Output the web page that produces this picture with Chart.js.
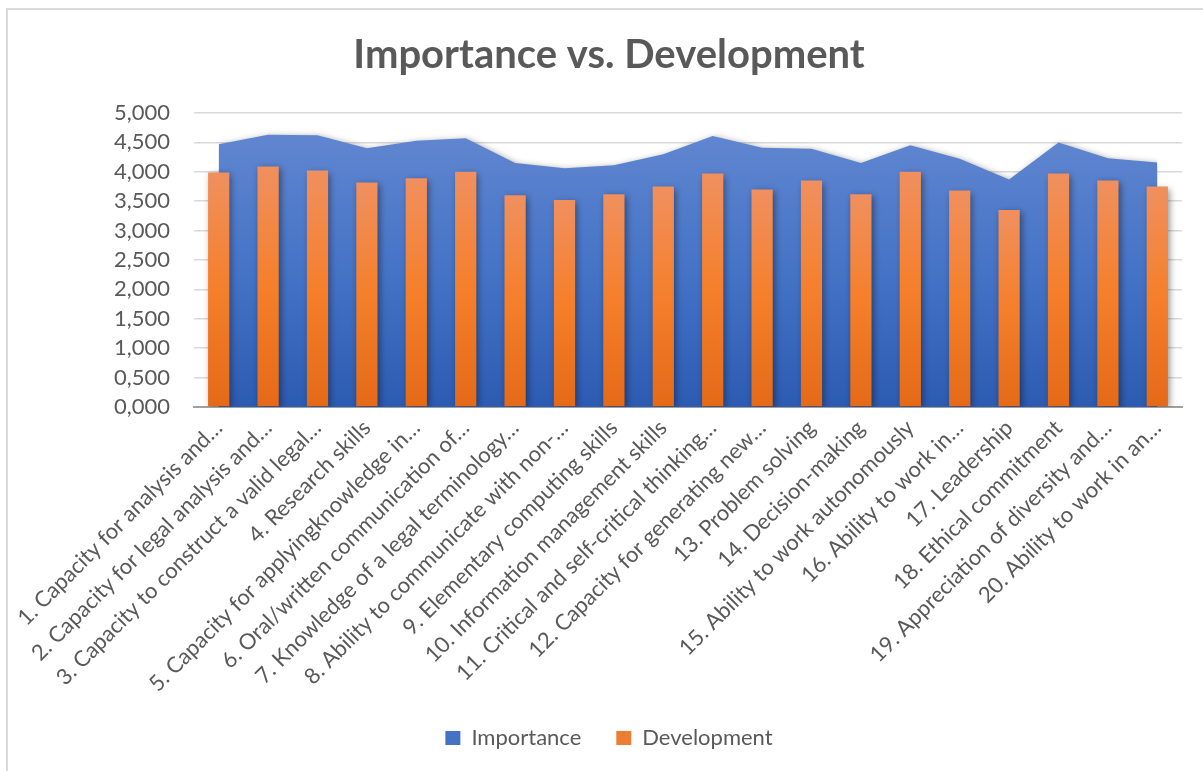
<!DOCTYPE html>
<html>
<head>
<meta charset="utf-8">
<title>Importance vs. Development</title>
<script src="https://cdn.jsdelivr.net/npm/chart.js@4/dist/chart.umd.min.js"></script>
<style>
  html, body { margin: 0; padding: 0; background: #ffffff; overflow: hidden; }
  #chart { display: block; }
</style>
</head>
<body>
<canvas id="chart" width="1203" height="771" style="width:1203px;height:771px"></canvas>
<script>
// Competence labels (as shortened on the axis)
const categories = [
  '1. Capacity for analysis and…',
  '2. Capacity for legal analysis and…',
  '3. Capacity to construct a valid legal…',
  '4. Research skills',
  '5. Capacity for applyingknowledge in…',
  '6. Oral/written communication of…',
  '7. Knowledge of a legal terminology…',
  '8. Ability to communicate with non-…',
  '9. Elementary computing skills',
  '10. Information management skills',
  '11. Critical and self-critical thinking…',
  '12. Capacity for generating new…',
  '13. Problem solving',
  '14. Decision-making',
  '15. Ability to work autonomously',
  '16. Ability to work in…',
  '17. Leadership',
  '18. Ethical commitment',
  '19. Appreciation of diversity and…',
  '20. Ability to work in an…'
];

// Mean scores (1–5 scale)
const importance = [4.47, 4.63, 4.62, 4.40, 4.53, 4.57, 4.15, 4.06, 4.11, 4.30,
                    4.61, 4.41, 4.39, 4.15, 4.45, 4.22, 3.87, 4.50, 4.23, 4.16];
const development = [3.99, 4.09, 4.02, 3.82, 3.89, 4.00, 3.60, 3.52, 3.62, 3.75,
                     3.97, 3.70, 3.85, 3.62, 4.00, 3.68, 3.35, 3.97, 3.85, 3.75];

// Value axis labels (decimal comma, three decimals)
const yTickLabels = ['0,000', '0,500', '1,000', '1,500', '2,000', '2,500',
                     '3,000', '3,500', '4,000', '4,500', '5,000'];

const FONT = 'Lato, Calibri, Carlito, "Open Sans", sans-serif';
const TEXT = '#595959';

const blueStops = [[0, '#6086d0'], [0.5, '#4573c6'], [1, '#2c5bb2']];
const orangeStops = [[0, '#f0905f'], [0.5, '#f57f2a'], [1, '#e46a18']];
const legendColors = { Importance: '#4472c4', Development: '#ed7d31' };

function gradient(ctx, y0, y1, stops) {
  const g = ctx.createLinearGradient(0, y0, 0, y1);
  stops.forEach(([o, c]) => g.addColorStop(o, c));
  return g;
}

// Area fill shaded from the highest point down to the baseline
function areaFill(context) {
  const chart = context.chart;
  const area = chart.chartArea;
  if (!area) return '#4472c4';
  const top = chart.scales.y.getPixelForValue(Math.max(...importance));
  return gradient(chart.ctx, top, area.bottom, blueStops);
}

// Each bar shaded from its own top down to the baseline
function barFill(context) {
  const chart = context.chart;
  const area = chart.chartArea;
  if (!area || context.type !== 'data') return '#ed7d31';
  const top = chart.scales.y.getPixelForValue(context.raw);
  return gradient(chart.ctx, top, area.bottom, orangeStops);
}

// Soft drop shadow under the area and the columns
const shadowPlugin = {
  id: 'softShadow',
  beforeDatasetsDraw(chart) {
    const c = chart.ctx;
    c.save();
    c.shadowColor = 'rgba(0, 0, 0, 0.45)';
    c.shadowBlur = 7;
    c.shadowOffsetX = 2;
    c.shadowOffsetY = 2;
  },
  afterDatasetsDraw(chart) {
    chart.ctx.restore();
  }
};

// Light frame round the chart object
const framePlugin = {
  id: 'frame',
  beforeDraw(chart) {
    const c = chart.ctx;
    c.save();
    c.strokeStyle = '#d9d9d9';
    c.lineWidth = 2;
    c.beginPath();
    c.moveTo(7, chart.height + 2);
    c.lineTo(7, 9);
    c.lineTo(chart.width + 2, 9);
    c.stroke();
    c.restore();
  }
};

new Chart(document.getElementById('chart'), {
  type: 'bar',
  data: {
    labels: categories,
    datasets: [
      {
        type: 'line',
        label: 'Importance',
        data: importance,
        fill: 'origin',
        backgroundColor: areaFill,
        borderColor: 'rgba(0,0,0,0)',
        borderWidth: 0,
        pointRadius: 0,
        pointHoverRadius: 0,
        tension: 0,
        order: 2
      },
      {
        type: 'bar',
        label: 'Development',
        data: development,
        backgroundColor: barFill,
        borderWidth: 0,
        categoryPercentage: 1,
        barPercentage: 0.43,
        order: 1
      }
    ]
  },
  options: {
    responsive: false,
    animation: false,
    devicePixelRatio: 1,
    layout: { padding: { left: 36, right: 21, top: 0, bottom: 12 } },
    scales: {
      x: {
        offset: true,
        grid: { display: false, drawTicks: false },
        border: { display: true, color: '#a0a0a0', width: 2 },
        ticks: {
          autoSkip: false,
          minRotation: 45,
          maxRotation: 45,
          padding: 8,
          color: TEXT,
          font: { family: FONT, size: 22 }
        },
        afterFit(scale) {
          scale.height = 285;
          scale.paddingLeft = 0;
          scale.paddingRight = 0;
        }
      },
      y: {
        min: 0,
        max: 5,
        grid: { color: '#d9d9d9', lineWidth: 1.5, drawTicks: false },
        border: { display: false },
        ticks: {
          stepSize: 0.5,
          padding: 24,
          color: TEXT,
          font: { family: FONT, size: 22 },
          callback: (value, index) => yTickLabels[index]
        },
        afterFit(scale) {
          scale.width = 158;
        }
      }
    },
    plugins: {
      title: {
        display: true,
        text: 'Importance vs. Development',
        color: TEXT,
        font: { family: FONT, size: 40, weight: 'bold' },
        padding: { top: 31, bottom: 34 }
      },
      legend: {
        position: 'bottom',
        labels: {
          boxWidth: 15,
          boxHeight: 14,
          padding: 35,
          color: TEXT,
          font: { family: FONT, size: 22 },
          sort: (a, b) => a.datasetIndex - b.datasetIndex,
          generateLabels(chart) {
            const items = Chart.defaults.plugins.legend.labels.generateLabels(chart);
            items.forEach((it) => {
              const col = legendColors[it.text];
              it.fillStyle = col;
              it.strokeStyle = col;
              it.lineWidth = 0;
            });
            return items;
          }
        }
      },
      tooltip: { enabled: false }
    }
  },
  plugins: [shadowPlugin, framePlugin]
});
</script>
</body>
</html>
